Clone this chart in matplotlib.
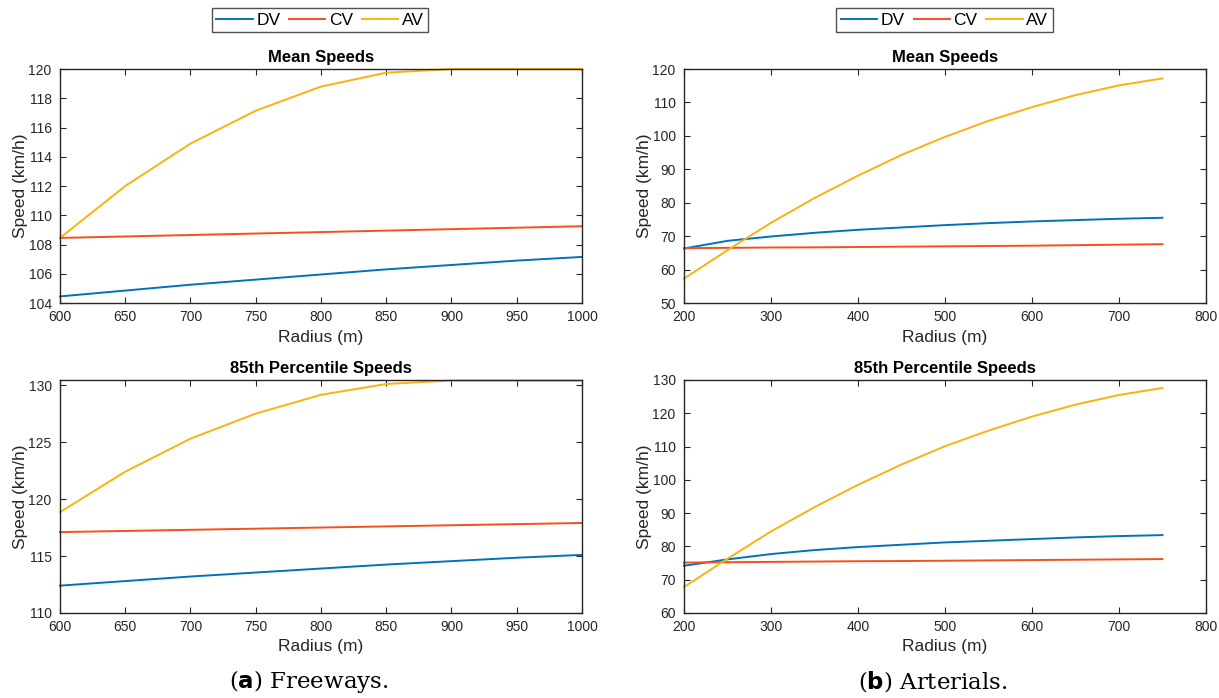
import matplotlib.pyplot as plt

plt.rcParams['font.family'] = ['Liberation Sans', 'DejaVu Sans']

# freeway radii and speeds (km/h)
fw_radius = [600, 650, 700, 750, 800, 850, 900, 950, 1000]
fw_mean_dv = [104.45, 104.85, 105.25, 105.6, 105.95, 106.3, 106.6, 106.9, 107.15]
fw_mean_cv = [108.45, 108.55, 108.65, 108.75, 108.85, 108.95, 109.05, 109.15, 109.25]
fw_mean_av = [108.45, 112.0, 114.9, 117.15, 118.8, 119.75, 120.0, 120.0, 120.0]
fw_p85_dv = [112.4, 112.8, 113.2, 113.55, 113.9, 114.25, 114.55, 114.85, 115.1]
fw_p85_cv = [117.1, 117.2, 117.3, 117.4, 117.5, 117.6, 117.7, 117.8, 117.9]
fw_p85_av = [118.85, 122.4, 125.3, 127.5, 129.15, 130.1, 130.4, 130.4, 130.4]

# arterial radii and speeds (km/h)
art_radius = [200, 250, 300, 350, 400, 450, 500, 550, 600, 650, 700, 750]
art_mean_dv = [66.3, 68.6, 69.9, 71.0, 71.9, 72.6, 73.3, 73.9, 74.4, 74.8, 75.2, 75.5]
art_mean_cv = [66.4, 66.5, 66.6, 66.65, 66.75, 66.85, 66.95, 67.05, 67.15, 67.3, 67.45, 67.6]
art_mean_av = [57.3, 65.8, 74.0, 81.4, 88.1, 94.3, 99.7, 104.5, 108.6, 112.2, 115.1, 117.2]
art_p85_dv = [74.2, 76.1, 77.7, 78.9, 79.8, 80.5, 81.2, 81.7, 82.2, 82.7, 83.1, 83.4]
art_p85_cv = [75.15, 75.25, 75.35, 75.45, 75.55, 75.6, 75.7, 75.8, 75.9, 76.0, 76.1, 76.2]
art_p85_av = [67.8, 76.3, 84.5, 91.8, 98.5, 104.6, 110.1, 114.8, 119.0, 122.6, 125.5, 127.6]

labels = ['DV', 'CV', 'AV']
colors = ['#0072BD', '#F5501C', '#FDB10F']

fig = plt.figure(figsize=(12.19, 6.98), dpi=100)

axes_specs = [
    ([0.0492, 0.5659, 0.4282, 0.3352], fw_radius, [fw_mean_dv, fw_mean_cv, fw_mean_av],
     'Mean Speeds', (600, 1000), range(600, 1001, 50), (104, 120), range(104, 121, 2)),
    ([0.0492, 0.1218, 0.4282, 0.3338], fw_radius, [fw_p85_dv, fw_p85_cv, fw_p85_av],
     '85th Percentile Speeds', (600, 1000), range(600, 1001, 50), (110, 130.45), range(110, 131, 5)),
    ([0.5611, 0.5659, 0.4282, 0.3352], art_radius, [art_mean_dv, art_mean_cv, art_mean_av],
     'Mean Speeds', (200, 800), range(200, 801, 100), (50, 120), range(50, 121, 10)),
    ([0.5611, 0.1218, 0.4282, 0.3338], art_radius, [art_p85_dv, art_p85_cv, art_p85_av],
     '85th Percentile Speeds', (200, 800), range(200, 801, 100), (60, 130), range(60, 131, 10)),
]

axs = []
for rect, x, series, title, xlim, xticks, ylim, yticks in axes_specs:
    ax = fig.add_axes(rect)
    for y, lab, c in zip(series, labels, colors):
        ax.plot(x, y, color=c, lw=1.4, label=lab, clip_on=False)
    ax.set_xlim(*xlim)
    ax.set_ylim(*ylim)
    ax.set_xticks(list(xticks))
    ax.set_yticks(list(yticks))
    ax.tick_params(direction='in', top=True, right=True, length=4, width=0.8,
                   labelsize=10, colors='#262626')
    ax.tick_params(axis='x', pad=5)
    ax.tick_params(axis='y', pad=6)
    for s in ax.spines.values():
        s.set_linewidth(1.0)
        s.set_color('#262626')
    ax.set_title(title, fontsize=12, fontweight='bold', pad=5)
    ax.set_xlabel('Radius (m)', fontsize=12.5, color='#262626', labelpad=4)
    ax.set_ylabel('Speed (km/h)', fontsize=12.5, color='#262626', labelpad=0)
    axs.append(ax)

for ax, cx in [(axs[0], 0.2625), (axs[2], 0.7748)]:
    ax.legend(loc='center', bbox_to_anchor=(cx, 0.9713), bbox_transform=fig.transFigure,
              ncol=3, fontsize=12.5, frameon=True, fancybox=False, edgecolor='#262626',
              handlelength=2.1, handletextpad=0.2, columnspacing=0.5,
              borderpad=0.25, borderaxespad=0)

fig.text(0.253, 0.014, r'($\mathbf{a}$) Freeways.', ha='center', va='baseline',
         fontsize=16.5, family='DejaVu Serif')
fig.text(0.765, 0.014, r'($\mathbf{b}$) Arterials.', ha='center', va='baseline',
         fontsize=16.5, family='DejaVu Serif')

fig.savefig('out.png', dpi=100)
